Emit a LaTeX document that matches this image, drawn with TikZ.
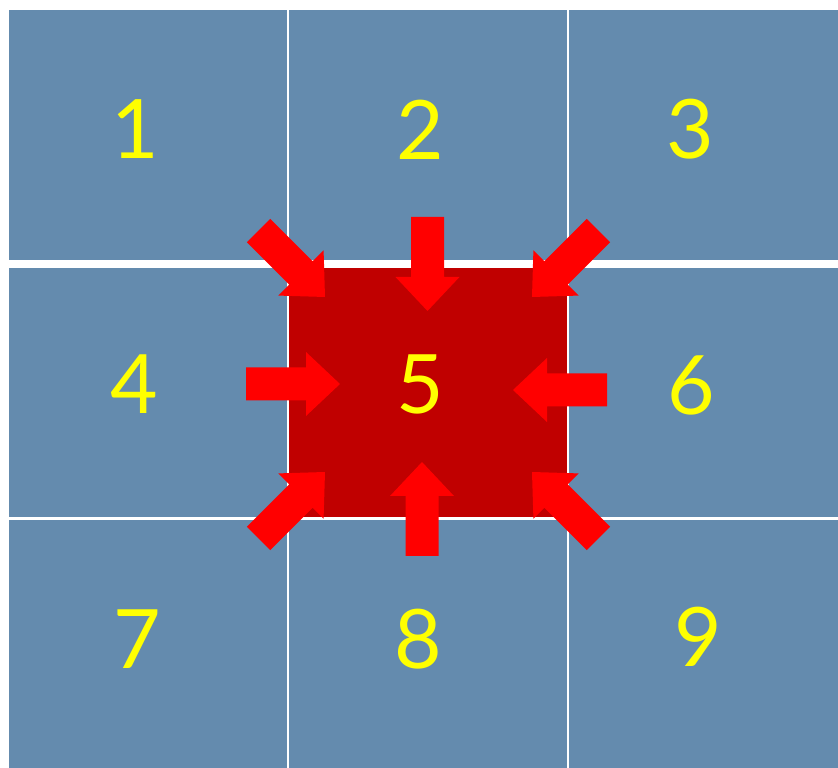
\documentclass[tikz,border=0pt]{standalone}
\usepackage{fontspec}
\setmainfont{Lato}

\definecolor{celda}{RGB}{100,139,174}
\definecolor{centro}{RGB}{192,0,0}
\definecolor{flecha}{RGB}{255,0,0}
\definecolor{cifra}{RGB}{255,255,0}

\tikzset{
  numero/.style={text=cifra, inner sep=0pt, font=\fontsize{82}{82}\selectfont},
  separa/.style={white, line width=2.6}
}

\begin{document}
\begin{tikzpicture}[x=1pt,y=1pt]
            % Marco de la figura (838 x 768)
            \useasboundingbox (0,0) rectangle (838,768);
            \fill[white] (0,0) rectangle (838,768);

            % Parámetros de la flecha: largo, largo de la punta, semianchos
            \def\largo{94}
            \def\punta{34}
            \def\cuerpo{16.5}
            \def\ala{32}

            % Tablero de celdas
            \fill[celda] (9,0) rectangle (838,758);

            % Separaciones blancas entre celdas
            \draw[separa] (288,0) -- (288,758);
            \draw[separa] (568,0) -- (568,758);
            \draw[separa] (9,249.3) -- (838,249.3);
            \draw[white, line width=8] (9,504) -- (838,504);

            % Celda central resaltada
            \fill[centro] (289.3,250.7) rectangle (566.7,500);

            % Flechas hacia la celda central: punta (x,y) y dirección
            \foreach \x/\y/\ang in {325/471/-45, 427.5/457/-90, 532/471/-135,
                                    340/384/0, 513/378/180,
                                    325/296/45, 422/306/90, 532/296/135}{
              \fill[flecha, shift={(\x,\y)}, rotate=\ang]
                (-\largo,-\cuerpo) -- (-\punta,-\cuerpo) -- (-\punta,-\ala) -- (0,0)
                -- (-\punta,\ala) -- (-\punta,\cuerpo) -- (-\largo,\cuerpo) -- cycle;
            }

            % Números de las celdas
            \foreach \n/\x/\y in {1/135/638.5, 2/420.5/638.5, 3/690/638.5,
                                  4/134.5/384, 5/420/384, 6/691.5/383,
                                  7/137/129, 8/418.5/129, 9/698/131.5}{
              \node[numero] (n\n) at (\x,\y) {\n};
            }
\end{tikzpicture}
\end{document}
